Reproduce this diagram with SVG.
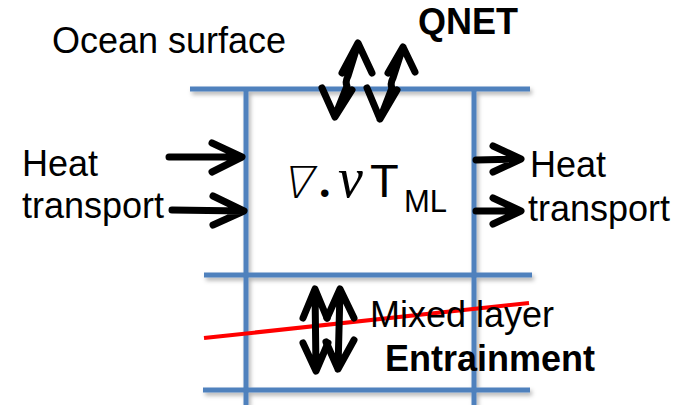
<svg xmlns="http://www.w3.org/2000/svg" width="684" height="405" viewBox="0 0 684 405">
<defs>
<filter id="sh" filterUnits="userSpaceOnUse" x="0" y="0" width="684" height="405">
<feDropShadow dx="2" dy="3" stdDeviation="2" flood-color="#000" flood-opacity="0.3"/>
</filter>
<style>
.grid{stroke:#4F81BD;stroke-width:5;fill:none}
.arr{stroke:#000;stroke-width:7;fill:none;stroke-linecap:round;stroke-linejoin:round}
.t{font-family:"Liberation Sans",Arial,sans-serif;font-size:36px;fill:#000}
.b{font-weight:bold}
</style>
</defs>
<rect width="684" height="405" fill="#fff"/>
<g id="grid" filter="url(#sh)">
<line class="grid" x1="246" y1="89" x2="246" y2="405"/>
<line class="grid" x1="474" y1="89" x2="474" y2="405"/>
<line class="grid" x1="190" y1="89" x2="530" y2="89"/>
<line class="grid" x1="204" y1="275" x2="532" y2="275"/>
<line class="grid" x1="203" y1="390" x2="530" y2="390"/>
</g>
<g id="mixed-layer-depth">
<line x1="204" y1="338" x2="529" y2="303" stroke="#FF0000" stroke-width="4"/>
</g>
<g id="ocean-surface"><text class="t" x="52" y="53">Ocean surface</text></g>
<g id="qnet"><text class="t b" x="418" y="34">QNET</text></g>
<g id="heat-in"><text class="t" x="22" y="176">Heat</text><text class="t" x="22" y="218">transport</text></g>
<g id="heat-out"><text class="t" x="530" y="177">Heat</text><text class="t" x="528" y="221">transport</text></g>
<g id="advection">
<text transform="translate(281,198) skewX(-14)" font-family="'DejaVu Sans',sans-serif" font-weight="300" font-size="44">∇</text>
<text x="319" y="197" font-family="'Liberation Serif',serif" font-size="46" font-weight="bold">.</text>
<text x="338" y="197" font-family="'Liberation Serif',serif" font-style="italic" font-size="56">v</text>
<text x="370" y="197" font-family="'Liberation Sans',Arial,sans-serif" font-size="47">T</text>
<text x="404" y="212" font-family="'Liberation Sans',Arial,sans-serif" font-size="31">ML</text>
</g>
<g id="mixed-layer"><text class="t" x="370" y="327">Mixed layer</text></g>
<g id="entrainment"><text class="t b" x="385" y="371">Entrainment</text></g>
<g id="connectors">
<path class="arr" d="M169,157 L241,157 M212,143 L242,157 L212,172"/>
<path class="arr" d="M172,210 L243,211 M213,196 L244,211 L213,225"/>
<path class="arr" d="M476,160 L519,159 M493,146 L521,159 L493,172"/>
<path class="arr" d="M476,211 L519,211 M493,198 L521,211 L493,224"/>
<path class="arr" d="M358,44 L348,76 Q345,82 347,86 L335,116 M342,73 L358,43 L372,73 M322,88 L335,117 L352,90"/>
<path class="arr" d="M403,47 L393,78 Q390,84 392,88 L380,119 M388,73 L403,47 L415,72 M367,88 L380,119 L397,90"/>
<path class="arr" d="M315,290 L316,370 M303,318 L315,289 L327,318 M303,343 L316,371 L328,343"/>
<path class="arr" d="M340,290 L338,369 M327,318 L340,289 L354,318 M326,342 L338,369 L354,340"/>
</g>
</svg>
